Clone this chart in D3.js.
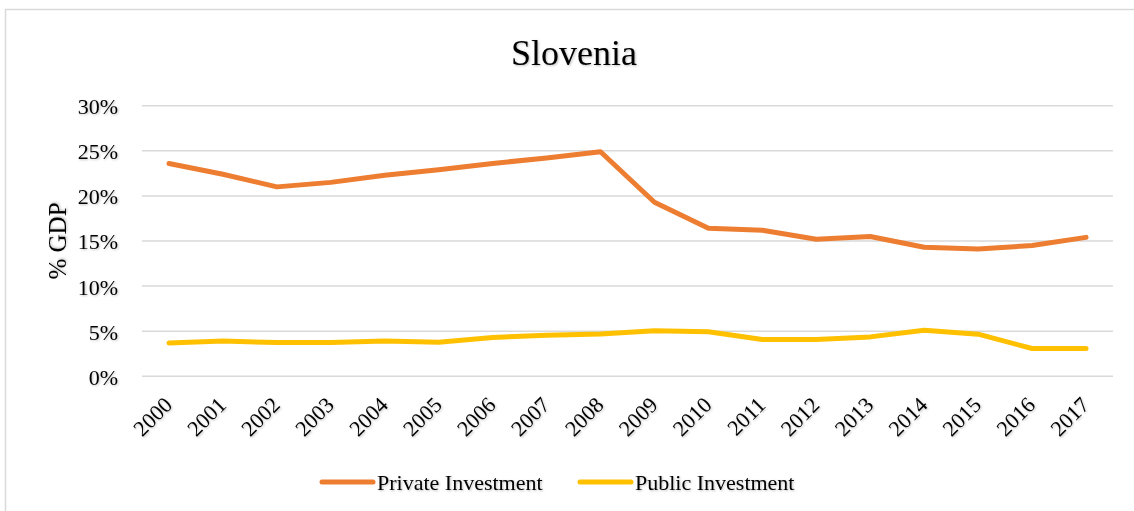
<!DOCTYPE html>
<html>
<head>
<meta charset="utf-8">
<script src="https://cdn.jsdelivr.net/npm/d3@7"></script>
<style>
  html, body { margin: 0; padding: 0; background: #fff; }
  svg text { font-family: "Liberation Serif", "Times New Roman", serif; fill: #000; }
  .shadow { filter: drop-shadow(1px 1px 0.8px rgba(0,0,0,0.25)); }
</style>
</head>
<body>
<svg id="chart" width="1134" height="511"></svg>
<script>
// Investment as a share of GDP, Slovenia 2000–2017
const years = ["2000","2001","2002","2003","2004","2005","2006","2007","2008",
               "2009","2010","2011","2012","2013","2014","2015","2016","2017"];
const privateInvestment = [23.6, 22.4, 21.0, 21.5, 22.3, 22.9, 23.6, 24.2, 24.9,
                           19.3, 16.4, 16.2, 15.2, 15.5, 14.3, 14.1, 14.5, 15.4];
const publicInvestment  = [3.7, 3.9, 3.75, 3.75, 3.9, 3.78, 4.3, 4.55, 4.7,
                           5.05, 4.93, 4.08, 4.08, 4.37, 5.1, 4.67, 3.08, 3.08];
const yTicks = [0, 5, 10, 15, 20, 25, 30];
const seriesNames = ["Private Investment", "Public Investment"];
const seriesColors = ["#ED7D31", "#FFC000"];

const svg = d3.select("#chart");

// outer frame
svg.append("rect")
  .attr("x", 5.5).attr("y", 9.5).attr("width", 1140).attr("height", 520)
  .attr("fill", "none").attr("stroke", "#d9d9d9").attr("stroke-width", 1.5);

const plot = { left: 142, right: 1113, top: 105.7, bottom: 376.3 };

const x = d3.scalePoint().domain(years).range([plot.left, plot.right]).padding(0.5);
const y = d3.scaleLinear().domain([0, 30]).range([plot.bottom, plot.top]);

// gridlines
svg.append("g").selectAll("line").data(yTicks).join("line")
  .attr("x1", plot.left).attr("x2", plot.right)
  .attr("y1", d => y(d)).attr("y2", d => y(d))
  .attr("stroke", "#d9d9d9").attr("stroke-width", 1.5);

// y axis labels
const yAxis = d3.axisLeft(y).tickValues(yTicks).tickFormat(d => d + "%").tickSize(0).tickPadding(0);
const gy = svg.append("g").attr("class", "shadow")
  .attr("transform", `translate(${118},0)`).call(yAxis);
gy.select(".domain").remove();
gy.selectAll("text").attr("font-size", 22).attr("font-family", "Liberation Serif, serif")
  .attr("dy", "0.36em");

// x axis labels, rotated
const xAxis = d3.axisBottom(x).tickSize(0).tickPadding(0);
const gx = svg.append("g").attr("class", "shadow")
  .attr("transform", `translate(0,${plot.bottom})`).call(xAxis);
gx.select(".domain").remove();
gx.selectAll("text")
  .attr("font-size", 22).attr("font-family", "Liberation Serif, serif")
  .attr("text-anchor", "end").attr("dy", null).attr("y", 0)
  .attr("transform", "translate(4,30) rotate(-45)");

// series lines
const line = d3.line().x((d, i) => x(years[i])).y(d => y(d));
[privateInvestment, publicInvestment].forEach((vals, k) => {
  svg.append("path").datum(vals)
    .attr("d", line)
    .attr("fill", "none")
    .attr("stroke", seriesColors[k])
    .attr("stroke-width", 5)
    .attr("stroke-linejoin", "round")
    .attr("stroke-linecap", "round");
});

// title
svg.append("text").attr("class", "shadow")
  .attr("x", 574).attr("y", 65).attr("text-anchor", "middle")
  .attr("font-size", 36).text("Slovenia");

// y axis title
svg.append("text").attr("class", "shadow")
  .attr("transform", "translate(66,241) rotate(-90)")
  .attr("text-anchor", "middle").attr("font-size", 25).text("% GDP");

// legend
const legendX = [322, 580];
const lg = svg.append("g");
seriesNames.forEach((name, k) => {
  lg.append("line")
    .attr("x1", legendX[k]).attr("x2", legendX[k] + 51)
    .attr("y1", 482).attr("y2", 482)
    .attr("stroke", seriesColors[k]).attr("stroke-width", 5)
    .attr("stroke-linecap", "round");
  lg.append("text").attr("class", "shadow")
    .attr("x", legendX[k] + 55).attr("y", 490)
    .attr("font-size", 22).text(name);
});
</script>
</body>
</html>
